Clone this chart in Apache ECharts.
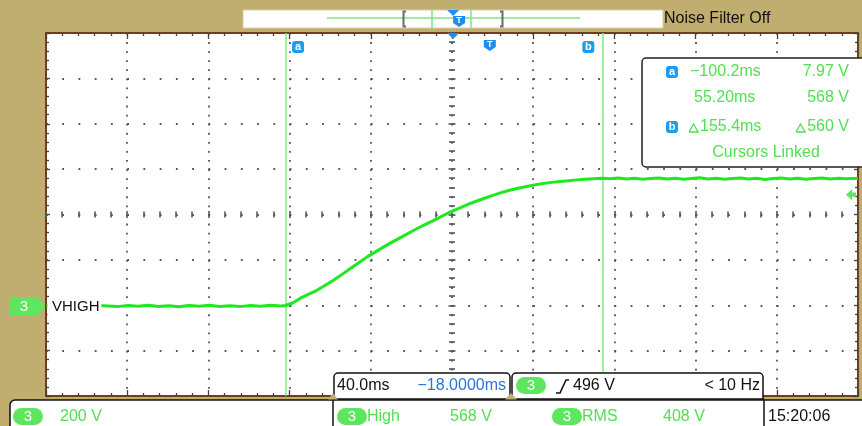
<!DOCTYPE html>
<html>
<head>
<meta charset="utf-8">
<script src="https://cdn.jsdelivr.net/npm/echarts@6/dist/echarts.min.js"></script>
<style>
html,body{margin:0;padding:0;background:#bfae6f;}
#c{width:862px;height:426px;}
</style>
</head>
<body>
<div id="c"></div>
<script>
// Channel 3 capture: time (ms, relative to trigger) and voltage (V)
const timeMs = [
  -217.5,-212.5,-207.5,-202.5,-197.5,-192.5,-187.5,-182.5,-177.5,-172.5,
  -167.5,-162.5,-157.5,-152.5,-147.5,-142.5,-137.5,-132.5,-127.5,-122.5,
  -117.5,-112.5,-107.5,-102.5,-100.2,
  -96.5,-92.9,-88.8,-84.6,-80.5,-76.5,-72.3,-68.2,-64.1,-60.0,
  -55.9,-51.8,-47.7,-43.6,-39.5,-35.4,-31.3,-27.2,-23.1,-19.0,
  -14.9,-10.8,-6.7,-2.6,1.5,5.6,9.7,13.9,18.0,22.0,
  26.2,30.3,34.4,38.5,42.6,46.7,50.8,55.2,
  59,63,67,71,75,79,83,87,91,95,99,103,107,111,115,119,123,127,131,135,
  139,143,147,151,155,159,163,167,171,175,180.6
];
const traceV = [
  6,9,5,8,4,9,6,3,8,5,
  9,4,7,2,8,5,9,4,7,3,
  8,5,9,6,7.97,
  20,40,58,76,98,120,146,172,197,223,
  245,267,288,308,328,348,366,384,403,421,
  437,453,467,480,493,505,515,524,532,539,
  545,550,554,557,561,564,566,568,
  566,569,565,568,564,567,569,565,568,564,567,570,565,568,564,567,569,565,568,563,
  567,569,565,568,564,567,569,565,568,566,568
];

// Cursor, trigger and timebase settings
const cursorMs = [-100.2, 55.2];
const cursorLabels = ['a', 'b'];
const triggerMs = 0;
const delayMs = -18;
const triggerLevelV = 496;
const screenMs = [-217.7, 180.6];
const screenV = [-390.5, 1207.6];

// Readout texts
const readA = ['\u2212100.2ms', '7.97 V'];
const readB = ['55.20ms', '568 V'];
const readDelta = ['155.4ms', '560 V'];
const timebase = ['40.0ms', '\u221218.0000ms'];
const triggerText = ['496 V', '< 10 Hz'];
const bottomText = ['200 V', 'High', '568 V', 'RMS', '408 V', '15:20:06'];

const FONT = '"Liberation Sans", Arial, sans-serif';
const BORDER = '#6e3f1f';
const DOT = '#4f5663';
const TICK = '#4b4034';
const GREEN_TXT = '#52e052';
const PILL = '#5ee65e';
const BLUE = '#1e8fee';

function borderAxis(isX, pos, split) {
  return {
    type: 'value', gridIndex: 0, position: pos,
    min: isX ? -5 : -4, max: isX ? 5 : 4, interval: 1,
    axisLine: { show: true, onZero: false, lineStyle: { color: BORDER, width: 2 } },
    axisTick: { show: true, inside: true, length: isX ? 6 : 4, lineStyle: { color: TICK, width: 1.3 } },
    minorTick: { show: true, splitNumber: 5, length: 3, lineStyle: { color: TICK, width: 1.3 } },
    axisLabel: { show: false },
    splitLine: { show: split, lineStyle: { color: DOT, width: 1.8, type: isX ? [1.8, 7.275] : [1.8, 14.44] } }
  };
}
function centerAxis(isX, inside) {
  return {
    type: 'value', gridIndex: 0,
    min: isX ? -5 : -4, max: isX ? 5 : 4, interval: 1,
    axisLine: { show: true, onZero: true, onZeroAxisIndex: 0, lineStyle: { color: 'rgba(0,0,0,0)' } },
    axisTick: { show: true, inside: inside, length: 3.5, lineStyle: { color: DOT, width: 1.6 } },
    minorTick: { show: true, splitNumber: 5, length: 3, lineStyle: { color: DOT, width: 1.6 } },
    axisLabel: { show: false },
    splitLine: { show: false }
  };
}

const option = {
  animation: false,
  backgroundColor: '#bfae6f',
  grid: { show: true, left: 46, top: 33, width: 812, height: 363, backgroundColor: '#ffffff', borderWidth: 0 },
  xAxis: [
    borderAxis(true, 'bottom', true),
    borderAxis(true, 'top', false),
    centerAxis(true, true),
    centerAxis(true, false),
    { type: 'value', gridIndex: 0, min: screenMs[0], max: screenMs[1], show: false }
  ],
  yAxis: [
    borderAxis(false, 'left', true),
    borderAxis(false, 'right', false),
    centerAxis(false, true),
    centerAxis(false, false),
    { type: 'value', gridIndex: 0, min: screenV[0], max: screenV[1], show: false }
  ],
  series: [{
    type: 'line', xAxisIndex: 4, yAxisIndex: 4, z: 5,
    data: timeMs.map((t, i) => [t, traceV[i]]),
    showSymbol: false, symbol: 'none',
    lineStyle: { color: '#1ee81e', width: 3 },
    markLine: {
      silent: true, symbol: 'none', animation: false,
      label: { show: false },
      lineStyle: { color: '#80e880', width: 1.5, type: 'solid' },
      data: cursorMs.map(t => ({ xAxis: t }))
    },
    markPoint: {
      silent: true,
      symbol: 'path://M0,5 L6,0 L6,3 L10,3 L10,7 L6,7 L6,10 Z',
      symbolSize: [10, 11], symbolOffset: [-7, 0],
      itemStyle: { color: PILL },
      label: { show: false },
      data: [{ coord: [screenMs[1], triggerLevelV] }]
    }
  }]
};

const chart = echarts.init(document.getElementById('c'), null, { renderer: 'canvas' });
chart.setOption(option);

const xp = t => chart.convertToPixel({ xAxisIndex: 4 }, t);
const yp = v => chart.convertToPixel({ yAxisIndex: 4 }, v);

const G = [];
function rect(x, y, w, h, fill, stroke, r, lw, z) {
  G.push({ type: 'rect', z: z || 20, shape: { x, y, width: w, height: h, r: r || 0 },
    style: { fill: fill, stroke: stroke || null, lineWidth: lw || 1.5 } });
}
function txt(x, y, s, color, size, align, weight) {
  G.push({ type: 'text', z: 22, x, y, style: { text: s, fill: color, fontSize: size || 16,
    fontFamily: FONT, fontWeight: weight || 'normal', align: align || 'left', verticalAlign: 'middle' } });
}
function line(x1, y1, x2, y2, color, w, z) {
  G.push({ type: 'line', z: z || 21, shape: { x1, y1, x2, y2 }, style: { stroke: color, lineWidth: w || 1 } });
}
function poly(pts, fill, z) {
  G.push({ type: 'polygon', z: z || 21, shape: { points: pts }, style: { fill: fill } });
}
function pline(pts, stroke, w) {
  G.push({ type: 'polyline', z: 22, shape: { points: pts }, style: { stroke: stroke, lineWidth: w, fill: null } });
}
function icon(cx, cy, ch) {
  rect(cx - 6, cy - 6, 12, 12, '#1a9cf0', null, 3, 0, 21);
  txt(cx, cy, ch, '#ffffff', 11, 'center', 'bold');
}
function shield(cx, y) {
  poly([[cx - 6, y], [cx + 6, y], [cx + 6, y + 7], [cx, y + 11], [cx - 6, y + 7]], BLUE);
  txt(cx, y + 5, 'T', '#ffffff', 9, 'center', 'bold');
}
function pill(x, y, w, h) {
  rect(x, y, w, h, PILL, null, h / 2, 0, 21);
  txt(x + w / 2, y + h / 2 + 0.5, '3', '#ffffff', 15, 'center');
}
function delta(x, y) {
  pline([[x, y + 4], [x + 4.5, y - 4], [x + 9, y + 4], [x, y + 4]], GREEN_TXT, 1.3);
}

// Record overview strip
const centerX = xp(delayMs);
rect(243, 10, 420, 18, '#ffffff', '#d9cfa3', 0, 1);
line(327, 18, 580, 18, '#7be87b', 1.5);
line(432, 10, 432, 28, '#7be87b', 1.5);
line(471, 10, 471, 28, '#7be87b', 1.5);
pline([[406, 11.5], [403.5, 11.5], [403.5, 26.5], [406, 26.5]], '#6b6b6b', 2);
pline([[500, 11.5], [502.5, 11.5], [502.5, 26.5], [500, 26.5]], '#6b6b6b', 2);
poly([[centerX - 6, 10], [centerX + 6, 10], [centerX, 16]], BLUE);
shield(centerX + 6, 16);
txt(664, 19, 'Noise Filter Off', '#111111', 16);

// Delay marker, trigger marker and cursor tags
poly([[centerX - 6, 33], [centerX + 6, 33], [centerX, 39]], BLUE);
shield(xp(triggerMs), 40);
icon(xp(cursorMs[0]) + 12.5, 47, cursorLabels[0]);
icon(xp(cursorMs[1]) - 14, 47, cursorLabels[1]);

// Channel ground marker and label
const gy = yp(0) - 1;
poly([[10, gy - 9], [38, gy - 9], [45, gy], [38, gy + 9], [10, gy + 9]], PILL);
txt(24, gy + 0.5, '3', '#ffffff', 15, 'center');
rect(47.5, gy - 9, 54, 18, '#ffffff', null, 0, 0, 20);
txt(52, gy + 0.5, 'VHIGH', '#111111', 15);

// Cursor readout box
rect(642, 58, 240, 109, '#ffffff', '#222222', 4, 1.5);
icon(672, 72, 'a');
icon(672, 127, 'b');
txt(690, 72, readA[0], GREEN_TXT, 16);
txt(849, 72, readA[1], GREEN_TXT, 16, 'right');
txt(694, 98, readB[0], GREEN_TXT, 16);
txt(849, 98, readB[1], GREEN_TXT, 16, 'right');
delta(689, 128);
txt(700, 127, readDelta[0], GREEN_TXT, 16);
delta(796, 128);
txt(849, 127, readDelta[1], GREEN_TXT, 16, 'right');
txt(766, 153, 'Cursors Linked', GREEN_TXT, 16, 'center');

// Bottom status panels
rect(10, 400, 870, 30, '#ffffff', '#111111', [5, 0, 0, 0], 1.5);
rect(334, 373, 176, 26, '#ffffff', '#111111', [4, 4, 0, 0], 1.5);
rect(512, 373, 251, 26, '#ffffff', '#111111', [4, 4, 0, 0], 1.5);
line(333, 399, 333, 426, '#111111', 1.5);
line(764, 399, 764, 426, '#111111', 1.5);
poly([[505, 399.5], [517, 399.5], [511, 393]], '#bfae6f', 23);
poly([[328, 399.5], [338, 399.5], [333, 393]], '#bfae6f', 23);

txt(337, 386, timebase[0], '#111111', 16);
txt(506, 386, timebase[1], '#2a74dc', 16, 'right');
pill(516, 377, 30, 17);
pline([[556, 393], [560, 393], [566, 380], [569, 380]], '#111111', 1.6);
txt(573, 386, triggerText[0], '#111111', 16);
txt(760, 386, triggerText[1], '#111111', 16, 'right');

pill(13, 408, 30, 17);
txt(60, 417, bottomText[0], GREEN_TXT, 16);
pill(337, 408, 30, 17);
txt(367, 417, bottomText[1], GREEN_TXT, 16);
txt(450, 417, bottomText[2], GREEN_TXT, 16);
pill(552, 408, 30, 17);
txt(582, 417, bottomText[3], GREEN_TXT, 16);
txt(663, 417, bottomText[4], GREEN_TXT, 16);
txt(768, 417, bottomText[5], '#111111', 16);

chart.setOption({ graphic: { elements: G } });
</script>
</body>
</html>
